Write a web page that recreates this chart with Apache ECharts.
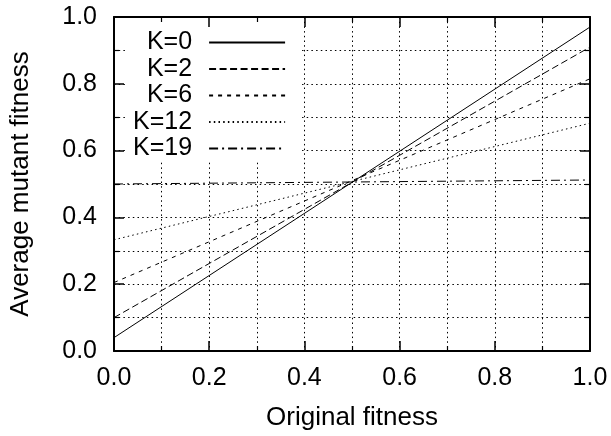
<!DOCTYPE html>
<html>
<head>
<meta charset="utf-8">
<script src="https://cdn.jsdelivr.net/npm/echarts@6/dist/echarts.min.js"></script>
<style>
  html, body { margin: 0; padding: 0; background: #fff; }
  #chart { width: 611px; height: 436px; }
</style>
</head>
<body>
<div id="chart"></div>
<script>
// Original fitness runs from 0 to 1; each curve is a straight line, so two end points suffice
const originalFitness = [0, 1];
const seriesNames = ['K=0', 'K=2', 'K=6', 'K=12', 'K=19'];
const k0 = [0.04, 0.97];
const k2 = [0.10, 0.91];
const k6 = [0.205, 0.815];
const k12 = [0.333, 0.682];
const k19 = [0.50, 0.512];
const xTicks = ['0.0', '0.2', '0.4', '0.6', '0.8', '1.0'];
const yTicks = ['0.0', '0.2', '0.4', '0.6', '0.8', '1.0'];

const seriesValues = [k0, k2, k6, k12, k19];
const dashes = ['solid', [7, 3.5], [4, 5], [1.5, 3.2], [9, 4, 2, 4]];

const FONT = "'Liberation Sans', Arial, Helvetica, sans-serif";

const chart = echarts.init(document.getElementById('chart'), null, { renderer: 'canvas' });

const tickFmt = list => (v => list[Math.round(v * 5)]);

// Dotted grid lives on its own hidden axes so the legend box can sit above it
const gridLineStyle = { color: '#000', width: 1, type: [1.5, 3.2] };
const gridAxis = {
  type: 'value', min: 0, max: 1, interval: 0.2, z: 0,
  axisLine: { show: false }, axisTick: { show: false }, axisLabel: { show: false },
  splitLine: { show: true, lineStyle: gridLineStyle },
  minorTick: { show: false, splitNumber: 2 },
  minorSplitLine: { show: true, lineStyle: gridLineStyle }
};

// Frame axes: heavy border with inward major/minor ticks
const frameAxis = (extra) => Object.assign({
  type: 'value', min: 0, max: 1, interval: 0.2, z: 10,
  axisLine: { show: true, onZero: false, lineStyle: { color: '#000', width: 2 } },
  axisTick: { show: true, inside: true, length: 10, lineStyle: { color: '#000', width: 1.5 } },
  minorTick: { show: true, splitNumber: 2, length: 5, lineStyle: { color: '#000', width: 1.2 } },
  splitLine: { show: false },
  minorSplitLine: { show: false }
}, extra);

const option = {
  animation: false,
  backgroundColor: '#fff',
  textStyle: { fontFamily: FONT },
  grid: { left: 114, right: 21, top: 17, bottom: 82, containLabel: false },
  legend: {
    data: seriesNames,
    orient: 'vertical',
    align: 'right',
    left: 127,
    top: 17,
    padding: [13, 16, 1, 6],
    itemWidth: 76,
    itemHeight: 14,
    itemGap: 1.5,
    backgroundColor: '#fff',
    borderWidth: 0,
    z: 4,
    itemStyle: { opacity: 0 },
    textStyle: { fontFamily: FONT, fontSize: 25, lineHeight: 25, color: '#000', padding: [0, 12, 0, 0] }
  },
  xAxis: [
    frameAxis({
      position: 'bottom',
      name: 'Original fitness',
      nameLocation: 'middle',
      nameGap: 54,
      nameTextStyle: { fontFamily: FONT, fontSize: 26, color: '#000' },
      axisLabel: { show: true, fontFamily: FONT, fontSize: 25, color: '#000', margin: 15, formatter: tickFmt(xTicks) }
    }),
    frameAxis({ position: 'top', axisLabel: { show: false } }),
    Object.assign({ position: 'bottom' }, gridAxis)
  ],
  yAxis: [
    frameAxis({
      position: 'left',
      name: 'Average mutant fitness',
      nameLocation: 'middle',
      nameGap: 80,
      nameRotate: 90,
      nameTextStyle: { fontFamily: FONT, fontSize: 26, color: '#000' },
      axisLabel: { show: true, fontFamily: FONT, fontSize: 25, color: '#000', margin: 17, formatter: tickFmt(yTicks) }
    }),
    frameAxis({ position: 'right', axisLabel: { show: false } }),
    Object.assign({ position: 'left' }, gridAxis)
  ],
  series: seriesNames.map((name, i) => ({
    name: name,
    type: 'line',
    xAxisIndex: 0,
    yAxisIndex: 0,
    z: 3,
    symbol: 'none',
    showSymbol: false,
    silent: true,
    lineStyle: { color: '#000', width: 1, type: dashes[i] },
    itemStyle: { color: '#000' },
    data: originalFitness.map((x, j) => [x, seriesValues[i][j]])
  }))
};

chart.setOption(option);
</script>
</body>
</html>
